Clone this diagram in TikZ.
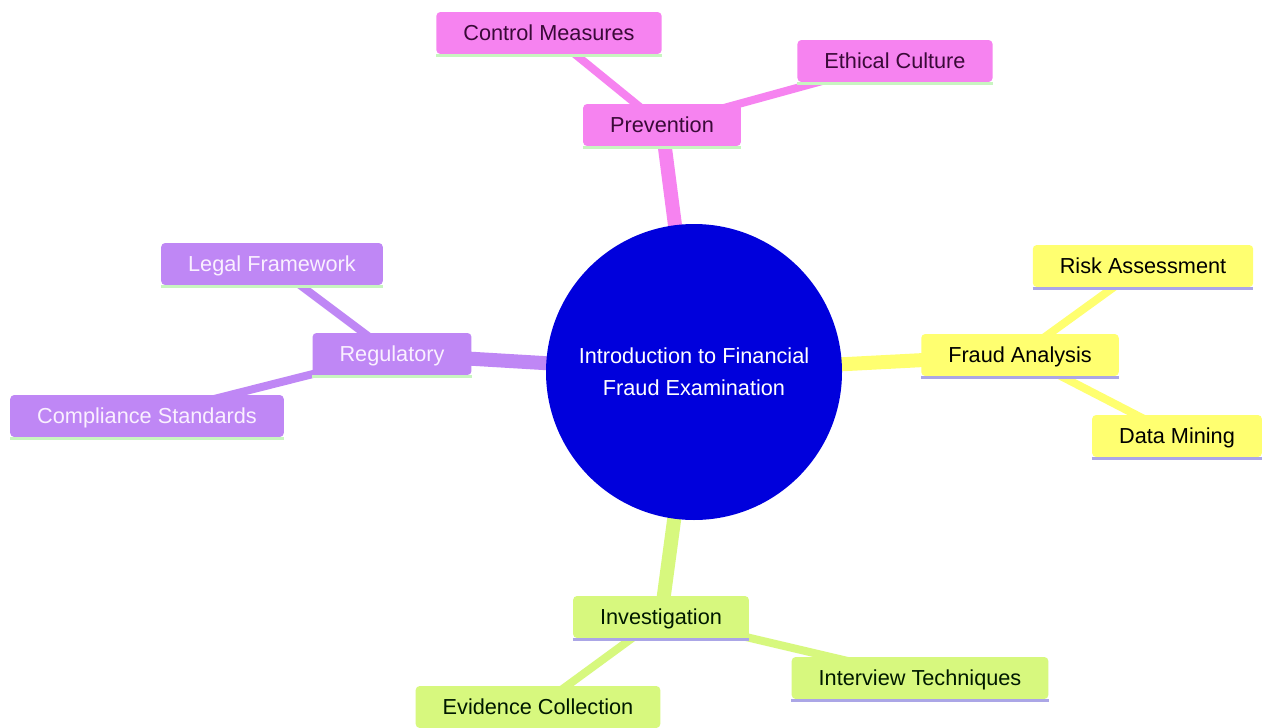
\documentclass[tikz,border=0pt]{standalone}
\usepackage{fontspec}
\setmainfont{Liberation Sans}
\usetikzlibrary{backgrounds}
\definecolor{pinkc}{HTML}{F683F0}
\definecolor{purplec}{HTML}{BF87F5}
\definecolor{yellowc}{HTML}{FFFF70}
\definecolor{greenc}{HTML}{D7F87E}
\definecolor{rootc}{HTML}{0000DC}
\definecolor{pinktext}{HTML}{3A0A38}
\definecolor{purpletext}{HTML}{FAF0FF}
\definecolor{linegreen}{HTML}{C8F5C0}
\definecolor{linelav}{HTML}{ABA6E6}
\tikzset{
  mm/.style={rounded corners=4pt, minimum height=42pt, inner xsep=27pt, inner ysep=0pt,
    text height=18pt, text depth=3pt,
    font=\fontsize{21.7}{26}\selectfont, anchor=center},
  pinkbox/.style={mm, fill=pinkc, text=pinktext},
  purplebox/.style={mm, fill=purplec, text=purpletext},
  yellowbox/.style={mm, fill=yellowc, text=black},
  greenbox/.style={mm, fill=greenc, text=black!90!green},
  rootedge/.style={line width=14pt},
  leafedge/.style={line width=8pt},
  bline/.style={line width=3pt},
}
\begin{document}
\begin{tikzpicture}[x=1pt,y=-1pt]
\useasboundingbox (0,0) rectangle (1264,728);

\node[circle, fill=rootc, minimum size=296pt, inner sep=0pt, text=white, align=center,
  font=\fontsize{21.7}{32}\selectfont] (root) at (694,372) {Introduction to Financial\\Fraud Examination};

\node[pinkbox] (prev) at (662,125) {Prevention};
\node[pinkbox] (ctrl) at (549,33) {Control Measures};
\node[pinkbox] (eth) at (895,61) {Ethical Culture};

\node[purplebox] (reg) at (392,354) {Regulatory};
\node[purplebox] (legal) at (272,264) {Legal Framework};
\node[purplebox] (comp) at (147,416) {Compliance Standards};

\node[yellowbox] (fa) at (1020,355) {Fraud Analysis};
\node[yellowbox] (risk) at (1143,266) {Risk Assessment};
\node[yellowbox] (dm) at (1177,436) {Data Mining};

\node[greenbox] (inv) at (661,617) {Investigation};
\node[greenbox] (intv) at (920,678) {Interview Techniques};
\node[greenbox] (evid) at (538,707) {Evidence Collection};

\foreach \n/\c in {prev/linegreen, ctrl/linegreen, eth/linegreen, reg/linegreen, legal/linegreen, comp/linegreen,
  fa/linelav, risk/linelav, dm/linelav, inv/linelav, intv/linelav, evid/linelav}
  \draw[bline, \c] ([yshift=-1.5pt]\n.south west) -- ([yshift=-1.5pt]\n.south east);

\begin{scope}[on background layer]
\fill[white] (0,0) rectangle (1264,728);
\draw[rootedge, pinkc] (root.center) -- (prev.center);
\draw[rootedge, purplec] (root.center) -- (reg.center);
\draw[rootedge, yellowc] (root.center) -- (fa.center);
\draw[rootedge, greenc] (root.center) -- (inv.center);
\draw[leafedge, pinkc] (prev.center) -- (ctrl.center);
\draw[leafedge, pinkc] (prev.center) -- (eth.center);
\draw[leafedge, purplec] (reg.center) -- (legal.center);
\draw[leafedge, purplec] (reg.center) -- (comp.center);
\draw[leafedge, yellowc] (fa.center) -- (risk.center);
\draw[leafedge, yellowc] (fa.center) -- (dm.center);
\draw[leafedge, greenc] (inv.center) -- (intv.center);
\draw[leafedge, greenc] (inv.center) -- (evid.center);
\end{scope}
\end{tikzpicture}
\end{document}
